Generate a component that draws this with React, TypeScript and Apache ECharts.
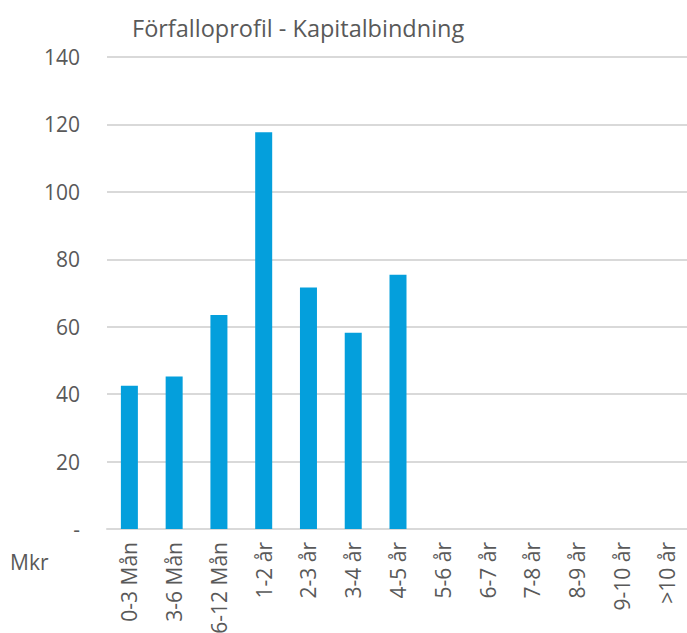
import React, { useEffect, useRef } from "react";
import * as echarts from "echarts";

const titleText = "Förfalloprofil - Kapitalbindning";
const unitLabel = "Mkr";
const categories = [
  "0-3 Mån", "3-6 Mån", "6-12 Mån", "1-2 år", "2-3 år", "3-4 år", "4-5 år",
  "5-6 år", "6-7 år", "7-8 år", "8-9 år", "9-10 år", ">10 år",
];
const values = [42.5, 45.2, 63.5, 117.7, 71.6, 58.2, 75.4, null, null, null, null, null, null];
const yTicks = { min: 0, max: 140, interval: 20 };

const FONT = "Open Sans";
const GREY = "#595959";

export default function App() {
  const ref = useRef<HTMLDivElement>(null);
  useEffect(() => {
    if (!ref.current) return;
    const chart = echarts.init(ref.current, null, { renderer: "svg" });
    chart.setOption({
      animation: false,
      backgroundColor: "#ffffff",
      title: {
        text: titleText,
        left: 127,
        top: 11,
        textStyle: { fontFamily: FONT, fontSize: 23.5, fontWeight: "normal", color: GREY },
      },
      graphic: [
        {
          type: "text",
          left: 10,
          top: 551,
          style: { text: unitLabel, fontFamily: FONT, fontSize: 21, fill: GREY },
        },
      ],
      grid: {
        left: 107,
        top: 57,
        width: 582,
        height: 472,
        containLabel: false,
        outerBoundsMode: "none",
      },
      xAxis: {
        type: "category",
        data: categories,
        axisLine: { show: true, lineStyle: { color: "#d9d9d9", width: 2 } },
        axisTick: { show: false },
        axisLabel: {
          interval: 0,
          rotate: 90,
          margin: 13,
          fontFamily: FONT,
          fontSize: 21,
          color: GREY,
        },
      },
      yAxis: {
        type: "value",
        min: yTicks.min,
        max: yTicks.max,
        interval: yTicks.interval,
        axisLine: { show: false },
        axisTick: { show: false },
        splitLine: { lineStyle: { color: "#d9d9d9", width: 2 } },
        axisLabel: {
          margin: 27,
          fontFamily: FONT,
          fontSize: 21,
          color: GREY,
          formatter: (v: number) => (v === 0 ? "-" : String(v)),
        },
      },
      series: [
        {
          type: "bar",
          data: values,
          barWidth: 17,
          itemStyle: { color: "#049fdc" },
        },
      ],
    });
    return () => chart.dispose();
  }, []);
  return (
    <div
      ref={ref}
      style={{ position: "fixed", left: 0, top: 0, width: 687, height: 633 }}
    />
  );
}
